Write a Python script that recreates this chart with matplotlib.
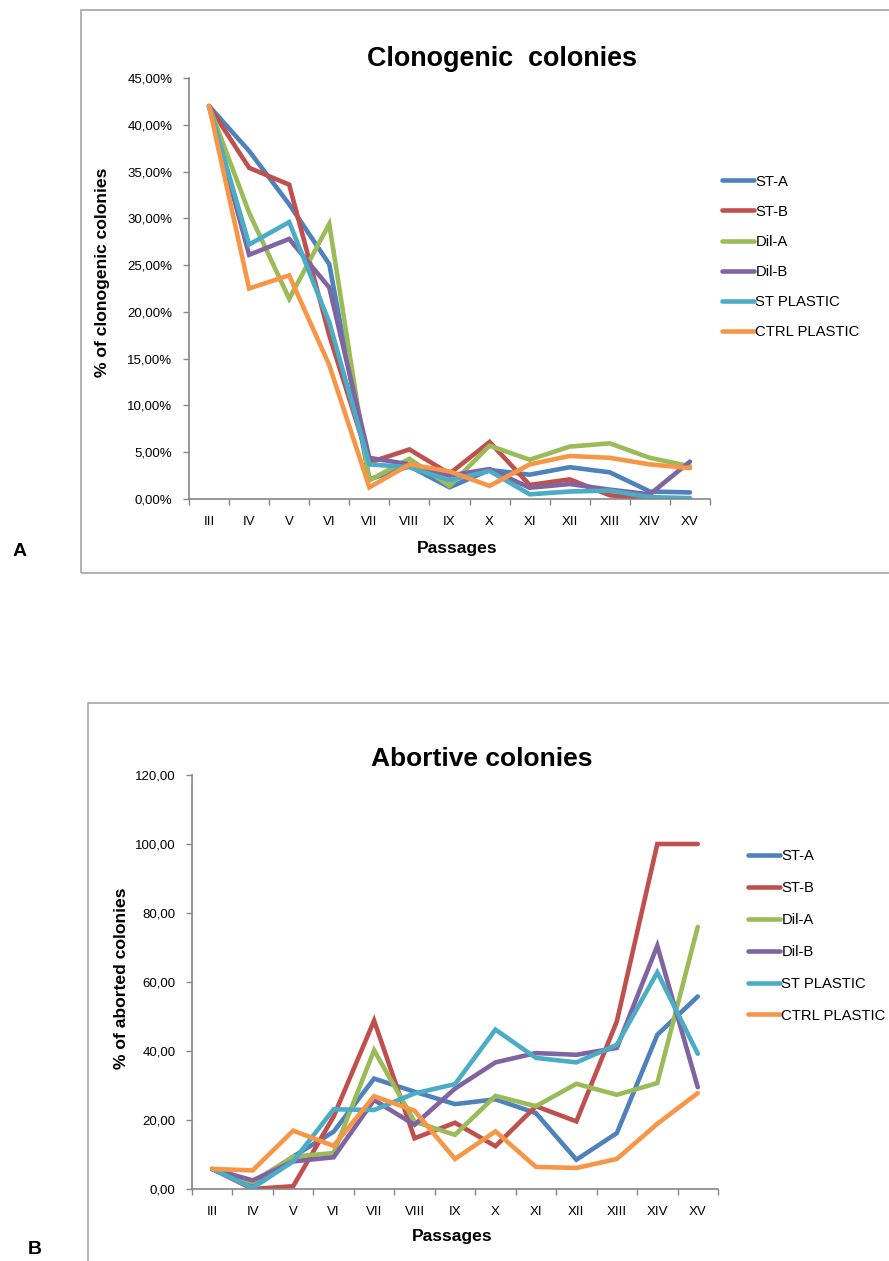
import matplotlib
matplotlib.use("Agg")
import matplotlib.pyplot as plt
from matplotlib.patches import Rectangle
from matplotlib.ticker import FuncFormatter, FixedLocator
import numpy as np

plt.rcParams['font.family'] = ['Liberation Sans', 'DejaVu Sans']

passages = ["III", "IV", "V", "VI", "VII", "VIII", "IX", "X", "XI", "XII", "XIII", "XIV", "XV"]
series_names = ["ST-A", "ST-B", "Dil-A", "Dil-B", "ST PLASTIC", "CTRL PLASTIC"]
colors = ["#4F81BD", "#C0504D", "#9BBB59", "#8064A2", "#4BACC6", "#F79646"]

# Clonogenic colonies (%)
clono_st_a = [42.0, 37.2, 31.5, 25.1, 2.1, 3.5, 1.25, 3.1, 2.6, 3.4, 2.85, 0.8, 0.7]
clono_st_b = [42.0, 35.4, 33.6, 17.5, 3.9, 5.3, 2.7, 6.1, 1.5, 2.1, 0.4, 0.0, 0.0]
clono_dil_a = [42.0, 30.6, 21.4, 29.4, 2.0, 4.3, 1.4, 5.7, 4.2, 5.6, 5.95, 4.4, 3.5]
clono_dil_b = [42.0, 26.1, 27.8, 22.6, 4.4, 3.7, 2.5, 3.2, 1.2, 1.6, 1.0, 0.5, 4.0]
clono_st_plastic = [42.0, 27.2, 29.6, 18.9, 3.7, 3.4, 2.0, 3.0, 0.5, 0.8, 0.9, 0.2, 0.1]
clono_ctrl_plastic = [42.0, 22.5, 23.9, 14.3, 1.25, 3.7, 2.95, 1.4, 3.7, 4.6, 4.4, 3.7, 3.3]

# Abortive colonies (%)
abort_st_a = [5.8, 1.2, 9.4, 16.6, 32.0, 28.2, 24.6, 26.0, 22.0, 8.5, 16.2, 44.7, 55.8]
abort_st_b = [5.8, 0.0, 0.8, 21.0, 48.8, 14.7, 19.2, 12.4, 24.0, 19.6, 48.6, 100.0, 100.0]
abort_dil_a = [5.8, 2.0, 9.4, 10.4, 40.2, 19.5, 15.7, 27.0, 24.0, 30.5, 27.3, 30.7, 76.0]
abort_dil_b = [5.8, 2.5, 8.0, 9.2, 25.8, 18.6, 29.1, 36.7, 39.4, 38.9, 40.9, 70.5, 29.5]
abort_st_plastic = [5.8, 0.3, 8.0, 23.1, 22.9, 27.7, 30.4, 46.2, 38.0, 36.7, 41.8, 62.8, 39.2]
abort_ctrl_plastic = [5.8, 5.4, 16.9, 12.5, 26.9, 22.7, 8.7, 16.7, 6.4, 6.1, 8.7, 18.9, 27.8]

clono = [clono_st_a, clono_st_b, clono_dil_a, clono_dil_b, clono_st_plastic, clono_ctrl_plastic]
abort = [abort_st_a, abort_st_b, abort_dil_a, abort_dil_b, abort_st_plastic, abort_ctrl_plastic]

W, H = 889, 1261
fig = plt.figure(figsize=(W / 100, H / 100), dpi=100)
fig.patch.set_facecolor("white")

def fx(px):
    return px / W

def fy(py):
    return 1 - py / H

frame_col = "#A6A6A6"
# panel frames
fig.add_artist(Rectangle((fx(81), fy(573)), fx(889 - 81) + 0.01, fy(10) - fy(573),
                         transform=fig.transFigure, fill=False, ec=frame_col, lw=1.2, clip_on=False))
fig.add_artist(Rectangle((fx(88), fy(1300)), fx(889 - 88) + 0.01, fy(703) - fy(1300),
                         transform=fig.transFigure, fill=False, ec=frame_col, lw=1.2, clip_on=False))

axis_col = "#868686"
x = np.arange(len(passages))

def style_axes(ax, yticks, fmt):
    for s in ["top", "right"]:
        ax.spines[s].set_visible(False)
    for s in ["left", "bottom"]:
        ax.spines[s].set_color(axis_col)
        ax.spines[s].set_linewidth(1.2)
    ax.set_xlim(-0.5, len(passages) - 0.5)
    ax.set_xticks(x)
    ax.set_xticklabels(passages)
    ax.xaxis.set_minor_locator(FixedLocator(np.arange(-0.5, len(passages), 1.0)))
    ax.tick_params(axis="x", which="major", length=0, pad=12, labelsize=9.5)
    ax.tick_params(axis="x", which="minor", length=4, width=1, color=axis_col, direction="out")
    ax.set_yticks(yticks)
    ax.yaxis.set_major_formatter(FuncFormatter(fmt))
    ax.tick_params(axis="y", which="major", length=4, width=1, color=axis_col, direction="out",
                   pad=8, labelsize=9.5)
    ax.set_facecolor("none")

def place_labels(ax, xl, yl):
    ax.xaxis.set_label_coords(fx(xl[0]), fy(xl[1]), transform=fig.transFigure)
    ax.xaxis.label.set_va("center")
    ax.xaxis.label.set_ha("center")
    ax.yaxis.set_label_coords(fx(yl[0]), fy(yl[1]), transform=fig.transFigure)
    ax.yaxis.label.set_va("center")
    ax.yaxis.label.set_ha("center")

leg_kw = dict(frameon=False, fontsize=10.7, handlelength=2.15, handletextpad=0.1,
              borderpad=0, borderaxespad=0, bbox_transform=fig.transFigure)

# Top chart
ax1 = fig.add_axes([fx(189), fy(499), fx(710) - fx(189), fy(78) - fy(499)])
for vals, name, c in zip(clono, series_names, colors):
    ax1.plot(x, vals, color=c, lw=3.3, label=name, solid_capstyle="round", solid_joinstyle="miter")
ax1.set_ylim(0, 45)
style_axes(ax1, np.arange(0, 46, 5), lambda v, p: ("%.2f%%" % v).replace(".", ","))
ax1.set_ylabel("% of clonogenic colonies", fontsize=12.6, fontweight="bold")
ax1.set_xlabel("Passages", fontsize=12.6, fontweight="bold")
place_labels(ax1, (457, 549), (103, 272))
ax1.legend(loc="upper left", bbox_to_anchor=(fx(722), fy(174.5)), labelspacing=1.09, **leg_kw)
fig.text(fx(502), fy(59), "Clonogenic  colonies", fontsize=19.4, fontweight="bold",
         ha="center", va="center")

# Bottom chart
ax2 = fig.add_axes([fx(192), fy(1189), fx(718) - fx(192), fy(775) - fy(1189)])
for vals, name, c in zip(abort, series_names, colors):
    ax2.plot(x, vals, color=c, lw=3.3, label=name, solid_capstyle="round", solid_joinstyle="miter")
ax2.set_ylim(0, 120)
style_axes(ax2, np.arange(0, 121, 20), lambda v, p: ("%.2f" % v).replace(".", ","))
ax2.set_ylabel("% of aborted colonies", fontsize=12.6, fontweight="bold")
ax2.set_xlabel("Passages", fontsize=12.6, fontweight="bold")
place_labels(ax2, (452, 1237), (122, 978))
ax2.legend(loc="upper left", bbox_to_anchor=(fx(748), fy(849.5)), labelspacing=1.2, **leg_kw)
fig.text(fx(482), fy(759), "Abortive colonies", fontsize=19, fontweight="bold",
         ha="center", va="center")

fig.text(fx(20), fy(552), "A", fontsize=14, fontweight="bold", va="center", ha="center")
fig.text(fx(35), fy(1250), "B", fontsize=14, fontweight="bold", va="center", ha="center")

fig.savefig("out.png", dpi=100)
